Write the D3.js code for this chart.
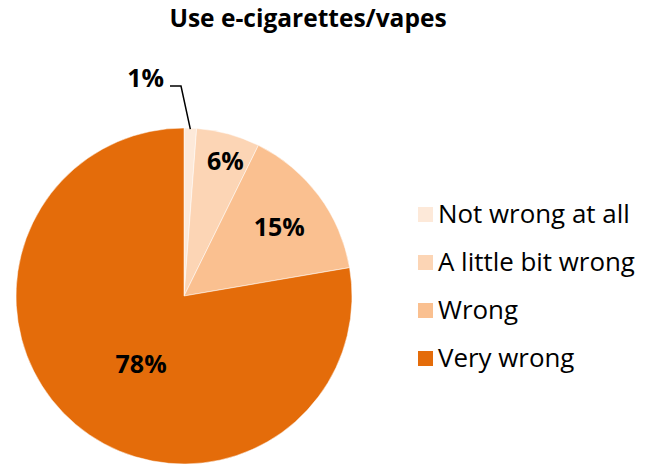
<!DOCTYPE html>
<html><head><meta charset="utf-8">
<script src="https://cdn.jsdelivr.net/npm/d3@7"></script>
<style>body{margin:0;background:#fff}</style>
</head><body>
<svg id="c" width="654" height="465"></svg>
<script>
const categories = ["Not wrong at all", "A little bit wrong", "Wrong", "Very wrong"];
const values = [1.2, 6.1, 15.0, 77.7];
const labels = ["1%", "6%", "15%", "78%"];
const colors = ["#FDE9D9", "#FCD5B5", "#FAC090", "#E46C0A"];
const title = "Use e-cigarettes/vapes";

const svg = d3.select("#c");
const font = "'Open Sans', 'Noto Sans', sans-serif";
const cx = 184, cy = 296, R = 168;

svg.append("text").attr("x", 308).attr("y", 27).attr("text-anchor", "middle")
  .attr("font-family", font).attr("font-weight", "bold").attr("font-size", 24.5)
  .text(title);

const pie = d3.pie().sort(null).value(d => d)(values);
const arc = d3.arc().innerRadius(0).outerRadius(R);
const g = svg.append("g").attr("transform", `translate(${cx},${cy})`);
g.selectAll("path").data(pie).join("path")
  .attr("d", arc).attr("fill", (d, i) => colors[i])
  .attr("stroke", "#fff").attr("stroke-width", 0.5);

// label placement: radius fraction and angle nudge (radians)
const labelR = [null, 0.84, 0.70, 0.48];
const labelDA = [0, 0.03, 0.015, -0.14];
pie.forEach((d, i) => {
  if (i === 0) return;
  const a = (d.startAngle + d.endAngle) / 2 + labelDA[i];
  const r = R * labelR[i];
  g.append("text").attr("x", r * Math.sin(a)).attr("y", -r * Math.cos(a) + 9)
    .attr("text-anchor", "middle").attr("font-family", font)
    .attr("font-weight", "bold").attr("font-size", 25).text(labels[i]);
});

// leader for first slice
const a0 = (pie[0].startAngle + pie[0].endAngle) / 2;
const p1 = [R * Math.sin(a0), -R * Math.cos(a0)];
const line = d3.line();
g.append("path").attr("d", line([[p1[0], p1[1] + 1], [-3, -210], [-14, -210]]))
  .attr("fill", "none").attr("stroke", "#000").attr("stroke-width", 1.5);
g.append("text").attr("x", -20).attr("y", -209.5).attr("text-anchor", "end")
  .attr("font-family", font).attr("font-weight", "bold").attr("font-size", 25)
  .text(labels[0]);

// legend
const leg = svg.append("g").attr("transform", "translate(418,223)");
const rows = leg.selectAll("g").data(categories).join("g")
  .attr("transform", (d, i) => `translate(0,${i * 48})`);
rows.append("rect").attr("x", 0).attr("y", -16).attr("width", 15).attr("height", 15)
  .attr("fill", (d, i) => colors[i]);
rows.append("text").attr("x", 20).attr("y", 0).attr("font-family", font)
  .attr("font-size", 25.9).attr("fill", "#000").text(d => d);
</script>
</body></html>
